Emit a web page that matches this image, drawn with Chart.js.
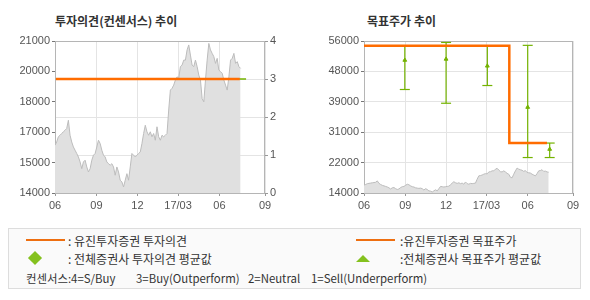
<!DOCTYPE html>
<html>
<head>
<meta charset="utf-8">
<script src="https://cdn.jsdelivr.net/npm/chart.js@4.4.0/dist/chart.umd.min.js"></script>
<style>
    body {
        margin: 0;
        width: 590px;
        height: 300px;
        position: relative;
        overflow: hidden;
        background: #fff;
        font-family: "Noto Sans CJK KR", sans-serif;
        color: #333;
    }
    canvas {
        position: absolute;
        top: 0;
    }
    .title {
        position: absolute;
        top: 12px;
        font-size: 12px;
        font-weight: bold;
        line-height: 17px;
        color: #333;
        white-space: pre;
    }
    #legendBox {
        position: absolute;
        left: 8px;
        top: 228px;
        width: 571px;
        height: 59px;
        border: 1px solid #ddd;
        background: #fafafa;
    }
    .lg {
        position: absolute;
        font-size: 12px;
        line-height: 16px;
        white-space: pre;
        color: #333;
    }
    .small {
        font-size: 11.4px;
    }
    .lgLine {
        position: absolute;
        width: 39px;
        height: 2px;
        background: #ee6f10;
    }
    .lgDiamond {
        position: absolute;
        width: 10px;
        height: 10px;
        background: #84c11e;
        transform: rotate(45deg);
    }
    .lgTriangle {
        position: absolute;
        width: 0;
        height: 0;
        border-left: 7px solid transparent;
        border-right: 7px solid transparent;
        border-bottom: 7px solid #84c11e;
    }
</style>
</head>
<body>
<div class="title" style="left:55px">투자의견(컨센서스) 추이</div>
<div class="title" style="left:367px">목표주가 추이</div>
<canvas id="opinionChart" width="295" height="220" style="left:0"></canvas>
<canvas id="targetChart" width="295" height="220" style="left:295px"></canvas>

<div id="legendBox"></div>
<div class="lgLine" style="left:26px;top:239px"></div>
<div class="lg" style="left:68px;top:233px">: 유진투자증권 투자의견</div>
<div class="lgLine" style="left:356px;top:239px"></div>
<div class="lg" style="left:400px;top:233px">:유진투자증권 목표주가</div>
<div class="lgDiamond" style="left:30px;top:253px"></div>
<div class="lg" style="left:68px;top:251px">: 전체증권사 투자의견 평균값</div>
<div class="lgTriangle" style="left:356px;top:255px"></div>
<div class="lg" style="left:400px;top:251px">:전체증권사 목표주가 평균값</div>
<div class="lg small" style="left:26px;top:270px">컨센서스:4=S/Buy</div>
<div class="lg small" style="left:136px;top:270px">3=Buy(Outperform)</div>
<div class="lg small" style="left:248px;top:270px">2=Neutral</div>
<div class="lg small" style="left:311px;top:270px">1=Sell(Underperform)</div>

<script>
// x axis is in days from 2016-06-01
const tickDays = [0, 92, 183, 273, 365, 466];
const tickLabels = ["06", "09", "12", "17/03", "06", "09"];

// closing price, one sample every priceStepDays
const priceStepDays = 3.71;
const price = [
    16200, 16350, 16590, 16660, 16740, 16820, 16890, 16970, 17350, 16660,
    16350, 16120, 15970, 15820, 15660, 15430, 15120, 15430, 15510, 15200,
    14970, 15120, 15510, 15740, 15820, 16120, 16430, 16280, 15970, 15740,
    15660, 15430, 15350, 15280, 15350, 15200, 14820, 15200, 14970, 14590,
    14510, 14280, 14590, 14890, 14590, 15200, 15820, 15740, 15660, 15740,
    15820, 15890, 16280, 16740, 17120, 16820, 16660, 16820, 16590, 16740,
    16430, 17050, 16590, 16430, 16660, 16590, 16660, 16740, 17820, 18740,
    18820, 18970, 19200, 19350, 19280, 19820, 19890, 20120, 20120, 20590,
    20820, 20350, 19890, 19820, 20120, 19820, 19430, 19200, 18350, 18200,
    19200, 20120, 20890, 20590, 20430, 20280, 19970, 20200, 19660, 19590,
    19510, 19200, 18970, 18740, 19350, 20120, 20200, 20430, 19970, 20050,
    19820, 19740
];

const opinionDays = [2, 410];
const opinion = [3, 3];
const avgOpinionDays = [2, 424];
const avgOpinion = [3, 3];

const targetDays = [0, 324, 408];
const targetPrice = [54700, 27800, 27800];

const avgTargetDays = [91, 183, 275, 365, 414];
const avgTargetHigh = [54700, 55600, 54700, 54800, 27800];
const avgTargetLow = [42600, 38800, 43700, 23800, 23800];
const avgTargetMean = [50700, 51000, 49100, 37700, 26100];

const orange = "#ff6c00";
const green = "#74b300";
const gridColor = "#e4e4e4";
const labelColor = "#555";

Chart.defaults.font.family = "'Liberation Sans', Arial, sans-serif";
Chart.defaults.font.size = 11;
Chart.defaults.color = labelColor;

const pricePoints = price.map((v, i) => ({ x: i * priceStepDays, y: v }));
const toPoints = (xs, ys) => xs.map((x, i) => ({ x: x, y: ys[i] }));

const plotBorder = {
    id: "plotBorder",
    beforeDatasetsDraw(chart) {
        const a = chart.chartArea;
        const ctx = chart.ctx;
        ctx.save();
        ctx.strokeStyle = "#b5b5b5";
        ctx.lineWidth = 1;
        ctx.strokeRect(Math.round(a.left) + 0.5, Math.round(a.top) + 0.5,
            Math.round(a.right - a.left) - 1, Math.round(a.bottom - a.top));
        ctx.restore();
    },
};

function xAxis() {
    return {
        type: "linear",
        min: 0,
        max: 466,
        afterBuildTicks: (s) => {
            s.ticks = tickDays.map((v) => ({ value: v }));
        },
        afterFit: (s) => {
            s.height = 27;
        },
        ticks: {
            autoSkip: false,
            maxRotation: 0,
            padding: 3,
            callback: (v, i) => tickLabels[i],
        },
        grid: { color: gridColor, tickColor: "#999", tickLength: 3 },
        border: { display: false },
    };
}

const roundThousand = (v) => String(Math.round(v / 1000) * 1000);

const priceDataset = {
    data: pricePoints,
    borderColor: "#bcbcbc",
    borderWidth: 1,
    backgroundColor: "#e0e0e0",
    fill: "start",
    pointRadius: 0,
    order: 5,
};

new Chart(document.getElementById("opinionChart"), {
    type: "line",
    data: {
        datasets: [
            Object.assign({ yAxisID: "yPrice" }, priceDataset),
            {
                data: toPoints(opinionDays, opinion),
                yAxisID: "yOp",
                borderColor: orange,
                borderWidth: 2.5,
                pointRadius: 0,
                order: 0,
            },
            {
                data: toPoints(avgOpinionDays, avgOpinion),
                yAxisID: "yOp",
                borderColor: green,
                borderWidth: 1.5,
                pointRadius: 0,
                order: 1,
            },
        ],
    },
    options: {
        responsive: false,
        animation: false,
        layout: { padding: { top: 41, left: 0, right: 0, bottom: 0 } },
        plugins: { legend: { display: false }, tooltip: { enabled: false } },
        scales: {
            x: xAxis(),
            yPrice: {
                position: "left",
                min: 14000,
                max: 21000,
                afterFit: (s) => {
                    s.width = 55;
                },
                ticks: { stepSize: 1400, padding: 2, callback: roundThousand },
                grid: { drawOnChartArea: false, tickColor: "#777", tickLength: 3 },
                border: { display: false },
            },
            yOp: {
                position: "right",
                min: 0,
                max: 4,
                afterFit: (s) => {
                    s.width = 30;
                },
                ticks: { stepSize: 1, padding: 2 },
                grid: { color: gridColor, tickColor: "#999", tickLength: 3 },
                border: { display: false },
            },
        },
    },
    plugins: [plotBorder],
});

const errorLines = [];
avgTargetDays.forEach((d, i) => {
    errorLines.push({ x: d, y: avgTargetLow[i] }, { x: d, y: avgTargetHigh[i] }, { x: d, y: null });
});

new Chart(document.getElementById("targetChart"), {
    type: "line",
    data: {
        datasets: [
            priceDataset,
            {
                data: toPoints(targetDays, targetPrice),
                stepped: true,
                borderColor: orange,
                borderWidth: 2.5,
                pointRadius: 0,
                order: 0,
            },
            {
                data: errorLines,
                borderColor: green,
                borderWidth: 1.2,
                pointRadius: 0,
                spanGaps: false,
                order: 1,
            },
            {
                data: toPoints(avgTargetDays, avgTargetHigh).concat(toPoints(avgTargetDays, avgTargetLow)),
                showLine: false,
                pointStyle: "line",
                pointRadius: 5,
                borderColor: green,
                pointBorderWidth: 1.2,
                order: 1,
            },
            {
                data: toPoints(avgTargetDays, avgTargetMean),
                showLine: false,
                pointStyle: "triangle",
                pointRadius: 2.2,
                borderColor: green,
                backgroundColor: green,
                pointBorderWidth: 1,
                order: 1,
            },
        ],
    },
    options: {
        responsive: false,
        animation: false,
        layout: { padding: { top: 41, left: 0, right: 17, bottom: 0 } },
        plugins: { legend: { display: false }, tooltip: { enabled: false } },
        scales: {
            x: xAxis(),
            y: {
                position: "left",
                min: 14000,
                max: 56000,
                afterFit: (s) => {
                    s.width = 69;
                },
                ticks: { stepSize: 8400, padding: 2, callback: roundThousand },
                grid: { color: gridColor, tickColor: "#777", tickLength: 3 },
                border: { display: false },
            },
        },
    },
    plugins: [plotBorder],
});
</script>
</body>
</html>
